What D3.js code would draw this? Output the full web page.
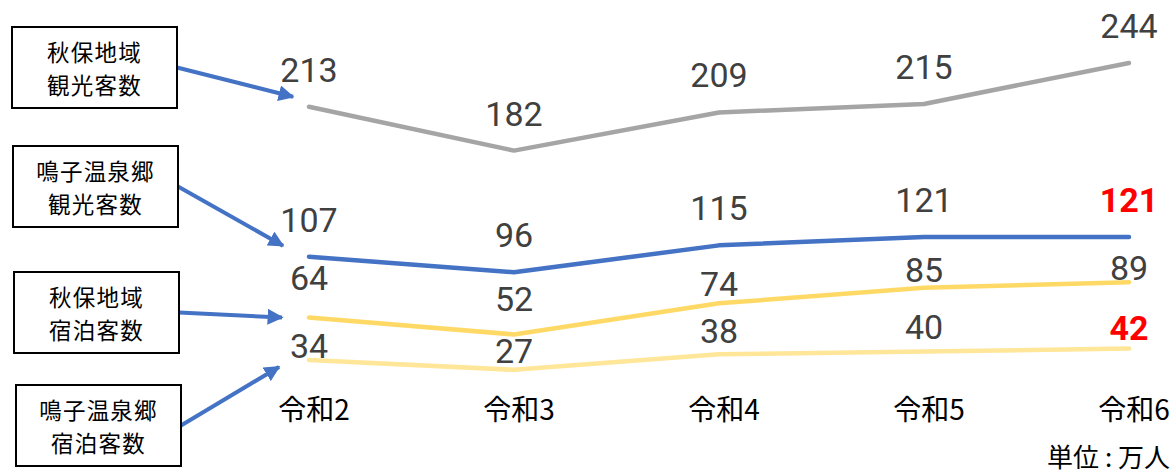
<!DOCTYPE html>
<html>
<head>
<meta charset="utf-8">
<script src="https://cdn.jsdelivr.net/npm/d3@7"></script>
<style>
  body { margin: 0; background: #fff; }
  text { font-family: Roboto, "Noto Sans CJK JP", sans-serif; }
  .boxlabel {
    width: 100%; height: 100%;
    display: flex; align-items: center; justify-content: center;
    text-align: center;
    font-family: "Noto Sans CJK JP", sans-serif;
    font-size: 22.5px; line-height: 33px; letter-spacing: 1.2px; color: #000;
  }
</style>
</head>
<body>
<script>
const svgWidth = 1173;
const svgHeight = 476;

// data (万人)
const years = ['令和2', '令和3', '令和4', '令和5', '令和6'];
const akiuKanko = [213, 182, 209, 215, 244];
const naruKanko = [107, 96, 115, 121, 121];
const akiuShuku = [64, 52, 74, 85, 89];
const naruShuku = [34, 27, 38, 40, 42];
const seriesNames = [['秋保地域', '観光客数'], ['鳴子温泉郷', '観光客数'], ['秋保地域', '宿泊客数'], ['鳴子温泉郷', '宿泊客数']];

const series = [
  { name: seriesNames[0], values: akiuKanko, color: '#a5a5a5', nudge: [25, 25, 25, 25, 25], hi: [] },
  { name: seriesNames[1], values: naruKanko, color: '#4472c4', nudge: [25, 25, 25, 25, 25], hi: [4] },
  { name: seriesNames[2], values: akiuShuku, color: '#ffd966', nudge: [27, 23, 7, 6, 2], hi: [] },
  { name: seriesNames[3], values: naruShuku, color: '#ffe699', nudge: [2, 7, 11, 12, 9], hi: [4] }
];

const svg = d3.select('body')
              .append('svg')
              .attr('width', svgWidth)
              .attr('height', svgHeight);

const x = d3.scalePoint()
            .domain(years)
            .range([309, 1129]);

const y = d3.scaleLinear()
            .domain([0, 288.5])
            .range([408, 0]);

const line = d3.line()
               .x((d, i) => x(years[i]))
               .y(d => y(d));

// lines
svg.selectAll('path.series')
   .data(series)
   .enter()
   .append('path')
   .attr('class', 'series')
   .attr('d', d => line(d.values))
   .attr('fill', 'none')
   .attr('stroke', d => d.color)
   .attr('stroke-width', 4.5)
   .attr('stroke-linecap', 'round')
   .attr('stroke-linejoin', 'round');

// value labels
series.forEach(s => {
  svg.selectAll(null)
     .data(s.values)
     .enter()
     .append('text')
     .attr('x', (d, i) => x(years[i]))
     .attr('y', (d, i) => y(d) - s.nudge[i])
     .attr('text-anchor', 'middle')
     .attr('font-size', 34)
     .attr('font-weight', (d, i) => s.hi.includes(i) ? 'bold' : 'normal')
     .attr('fill', (d, i) => s.hi.includes(i) ? '#ff0000' : '#404040')
     .text(d => d);
});

// x axis labels
svg.selectAll('text.year')
   .data(years)
   .enter()
   .append('text')
   .attr('class', 'year')
   .attr('x', d => x(d) + 5)
   .attr('y', 420)
   .attr('text-anchor', 'middle')
   .attr('font-size', 28)
   .attr('fill', '#000')
   .style('font-family', '"Noto Sans CJK JP", sans-serif')
   .text(d => d);

svg.append('text')
   .attr('x', 1170)
   .attr('y', 467)
   .attr('text-anchor', 'end')
   .attr('font-size', 26)
   .attr('fill', '#000')
   .style('font-family', '"Noto Sans CJK JP", sans-serif')
   .text('単位 : 万人');

// callout boxes with arrows
const boxes = [
  { x: 12, y: 27, tip: [-16, -10] },
  { x: 13, y: 146, tip: [-26, -11] },
  { x: 14, y: 272, tip: [-27, 0] },
  { x: 16, y: 385, tip: [-30, 7] }
];
const boxW = 165, boxH = 81;

const defs = svg.append('defs');
defs.append('marker')
    .attr('id', 'arrow')
    .attr('viewBox', '0 0 10 10')
    .attr('refX', 9)
    .attr('refY', 5)
    .attr('markerWidth', 4)
    .attr('markerHeight', 4)
    .attr('markerUnits', 'strokeWidth')
    .attr('orient', 'auto')
    .append('path')
    .attr('d', 'M0,0 L10,5 L0,10 z')
    .attr('fill', '#4472c4');

boxes.forEach((b, k) => {
  const s = series[k];
  const tx = x(years[0]) + b.tip[0];
  const ty = y(s.values[0]) + b.tip[1];

  svg.append('line')
     .attr('x1', b.x + boxW)
     .attr('y1', b.y + boxH / 2)
     .attr('x2', tx)
     .attr('y2', ty)
     .attr('stroke', '#4472c4')
     .attr('stroke-width', 4)
     .attr('marker-end', 'url(#arrow)');

  svg.append('rect')
     .attr('x', b.x)
     .attr('y', b.y)
     .attr('width', boxW)
     .attr('height', boxH)
     .attr('fill', '#fff')
     .attr('stroke', '#000')
     .attr('stroke-width', 2);

  svg.append('foreignObject')
     .attr('x', b.x)
     .attr('y', b.y)
     .attr('width', boxW)
     .attr('height', boxH)
     .append('xhtml:div')
     .attr('class', 'boxlabel')
     .html(s.name.join('<br>'));
});
</script>
</body>
</html>
